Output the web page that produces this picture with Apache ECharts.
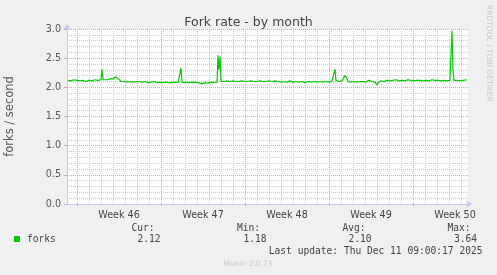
<!DOCTYPE html>
<html><head><meta charset="utf-8">
<script src="https://cdn.jsdelivr.net/npm/echarts@6/dist/echarts.min.js"></script>
<style>html,body{margin:0;padding:0;background:#F0F0F0;}#c{width:497px;height:275px;}</style>
</head><body><div id="c"></div>
<script>
// x positions are in days since the start of Week 46
var days = [-0.75,-0.5,-0.25,0,0.25,0.5,0.75,1,1.25,1.5,1.75,2,2.08,2.17,2.33,2.58,2.83,3,3.17,3.25,3.33,3.5,3.67,3.92,4.17,4.42,4.67,4.92,5,5.17,5.42,5.67,5.92,6.17,6.42,6.67,6.92,7.17,7.42,7.67,7.92,8.17,8.42,8.58,8.67,8.75,8.92,9.17,9.42,9.67,9.83,10.08,10.42,10.67,10.92,11.17,11.42,11.67,11.75,11.83,11.92,12,12.25,12.5,12.75,13,13.25,13.5,13.75,14,14.25,14.5,14.75,15,15.25,15.5,15.75,16,16.25,16.5,16.75,17,17.25,17.5,17.75,18,18.25,18.5,18.75,19,19.25,19.5,19.75,20,20.25,20.5,20.75,21,21.25,21.5,21.58,21.67,21.83,22.08,22.33,22.5,22.58,22.67,22.83,23.08,23.33,23.58,23.83,24.08,24.33,24.58,24.83,25,25.08,25.17,25.33,25.58,25.83,26.08,26.33,26.58,26.83,27.08,27.33,27.58,27.83,28.08,28.33,28.58,28.83,29.08,29.33,29.58,29.83,30.08,30.33,30.58,30.83,31.08,31.17,31.25,31.33,31.42,31.67,31.92,32.17,32.33,32.5];
var forks = [2.12,2.11,2.13,2.12,2.11,2.12,2.10,2.12,2.11,2.13,2.12,2.13,2.31,2.13,2.14,2.13,2.15,2.14,2.18,2.16,2.19,2.14,2.10,2.10,2.09,2.10,2.09,2.10,2.13,2.10,2.09,2.10,2.08,2.09,2.10,2.08,2.09,2.08,2.09,2.08,2.08,2.09,2.08,2.09,2.33,2.09,2.08,2.09,2.08,2.09,2.07,2.08,2.06,2.08,2.07,2.09,2.08,2.09,2.55,2.30,2.53,2.10,2.10,2.11,2.10,2.11,2.10,2.10,2.11,2.10,2.10,2.11,2.10,2.10,2.11,2.10,2.10,2.11,2.10,2.11,2.10,2.09,2.10,2.09,2.11,2.09,2.10,2.09,2.10,2.08,2.10,2.09,2.10,2.09,2.10,2.09,2.10,2.09,2.11,2.31,2.12,2.10,2.10,2.11,2.20,2.15,2.10,2.11,2.09,2.10,2.09,2.10,2.10,2.09,2.12,2.10,2.09,2.04,2.08,2.10,2.11,2.10,2.12,2.11,2.12,2.13,2.11,2.12,2.11,2.13,2.12,2.11,2.12,2.12,2.11,2.12,2.11,2.13,2.12,2.12,2.11,2.12,2.11,2.12,2.13,2.97,2.30,2.12,2.12,2.11,2.12,2.14,2.13];
var weekLabels = ['Week 46','Week 47','Week 48','Week 49','Week 50'];
var yTicks = ['0.0','0.5','1.0','1.5','2.0','2.5','3.0'];
var legendStats = {cur:'2.12', min:'1.18', avg:'2.10', max:'3.64'};
var lastUpdate = 'Last update: Thu Dec 11 09:00:17 2025';

// axis span in 2-hour slots: from 10 slots before Week 46 start to 391 slots after
var SLOTS_BEFORE = 10, SLOTS_AFTER = 391, SLOTS_PER_DAY = 12;
var XMIN = -SLOTS_BEFORE/SLOTS_PER_DAY, XMAX = SLOTS_AFTER/SLOTS_PER_DAY;
var slotCats = [];
for (var s = -SLOTS_BEFORE; s <= SLOTS_AFTER; s++) slotCats.push(String(s));
function slotOf(idx){ return idx - SLOTS_BEFORE; }

var pts = days.map(function(d,i){return [d, forks[i]];});
var mono = '"DejaVu Sans Mono", monospace';
var sans = '"DejaVu Sans", sans-serif';
var minorC = '#CDCDCD', majorC = '#E0A4A4', axisC = '#C4C8F2';

var chart = echarts.init(document.getElementById('c'), null, {renderer:'canvas'});
chart.setOption({
  backgroundColor:'#F0F0F0',
  animation:false,
  title:{text:'Fork rate - by month', left:'center', top:11, textStyle:{fontFamily:sans, fontSize:12.5, fontWeight:'normal', color:'#444'}},
  grid:{left:67, right:29, top:29, bottom:71, backgroundColor:'#FFFFFF', show:true, borderWidth:0, containLabel:false, outerBoundsMode:'none'},
  xAxis:[
    {type:'value', position:'bottom', offset:0, min:XMIN, max:XMAX, axisLabel:{show:false}, axisTick:{show:false}, splitLine:{show:false},
     axisLine:{show:true, onZero:false, lineStyle:{color:axisC, width:1}, symbol:['none','arrow'], symbolSize:[6,6], symbolOffset:[0,4]}, z:3},
    {type:'category', position:'bottom', offset:0, data:slotCats, boundaryGap:false, axisLine:{show:false, onZero:false}, axisTick:{show:false}, axisLabel:{show:false},
     splitLine:{show:true, interval:function(i){var s=slotOf(i); return s>-SLOTS_BEFORE && s%SLOTS_PER_DAY===0 && s%84!==0;}, lineStyle:{color:minorC, type:[1,1], width:1}}, z:1},
    {type:'category', position:'bottom', offset:0, data:slotCats, boundaryGap:false, axisLine:{show:false, onZero:false},
     axisTick:{show:true, length:2, interval:function(i){return slotOf(i)%84===0;}, lineStyle:{color:majorC}},
     splitLine:{show:true, interval:function(i){return slotOf(i)%84===0;}, lineStyle:{color:majorC, type:[1,1], width:1}},
     axisLabel:{show:true, margin:6, fontFamily:sans, fontSize:9.6, color:'#444',
       interval:function(i){var s=slotOf(i); return s>0 && s%84===42;},
       formatter:function(v,i){return weekLabels[(slotOf(i)-42)/84]||'';}}, z:2}
  ],
  yAxis:[
    {type:'value', position:'left', offset:0, min:0, max:3, interval:0.1, axisLabel:{show:false}, axisTick:{show:false},
     axisLine:{show:true, onZero:false, lineStyle:{color:axisC, width:1}, symbol:['none','arrow'], symbolSize:[6,6], symbolOffset:[0,5]},
     splitLine:{show:true, showMinLine:false, lineStyle:{color:minorC, type:[1,1], width:1}}, z:1},
    {type:'value', position:'left', offset:0, min:0, max:3, interval:0.5, axisLine:{show:false, onZero:false},
     axisTick:{show:true, length:3, lineStyle:{color:majorC}},
     splitLine:{show:true, showMinLine:false, lineStyle:{color:majorC, type:[1,1], width:1}}, z:2,
     axisLabel:{margin:6, fontFamily:sans, fontSize:9.6, color:'#555', formatter:function(v){return yTicks[Math.round(v*2)];}},
     name:'forks / second', nameLocation:'middle', nameGap:51, nameRotate:90,
     nameTextStyle:{fontFamily:sans, fontSize:11.5, color:'#555'}}
  ],
  series:[{type:'line', data:pts, xAxisIndex:0, yAxisIndex:0, showSymbol:false, symbol:'none',
    lineStyle:{color:'#00CC00', width:1.2}, z:5}],
  graphic:[
    {type:'rect', shape:{x:14, y:236, width:6, height:6}, style:{fill:'#00CC00'}},
    {type:'text', x:27, y:239.5, style:{text:'forks', font:'9.6px '+mono, fill:'#444', verticalAlign:'middle'}},
    {type:'text', x:154.5, y:228, style:{text:'Cur:', font:'9.6px '+mono, fill:'#444', align:'right', verticalAlign:'middle'}},
    {type:'text', x:260, y:228, style:{text:'Min:', font:'9.6px '+mono, fill:'#444', align:'right', verticalAlign:'middle'}},
    {type:'text', x:365.5, y:228, style:{text:'Avg:', font:'9.6px '+mono, fill:'#444', align:'right', verticalAlign:'middle'}},
    {type:'text', x:470.5, y:228, style:{text:'Max:', font:'9.6px '+mono, fill:'#444', align:'right', verticalAlign:'middle'}},
    {type:'text', x:160.5, y:239.5, style:{text:legendStats.cur, font:'9.6px '+mono, fill:'#444', align:'right', verticalAlign:'middle'}},
    {type:'text', x:266.5, y:239.5, style:{text:legendStats.min, font:'9.6px '+mono, fill:'#444', align:'right', verticalAlign:'middle'}},
    {type:'text', x:371.5, y:239.5, style:{text:legendStats.avg, font:'9.6px '+mono, fill:'#444', align:'right', verticalAlign:'middle'}},
    {type:'text', x:477, y:239.5, style:{text:legendStats.max, font:'9.6px '+mono, fill:'#444', align:'right', verticalAlign:'middle'}},
    {type:'text', x:482.5, y:251.5, style:{text:lastUpdate, font:'9.6px '+mono, fill:'#444', align:'right', verticalAlign:'middle'}},
    {type:'text', x:248, y:264.5, style:{text:'Munin 2.0.73', font:'7.5px '+sans, fill:'#C8C8C8', align:'center', verticalAlign:'middle'}},
    {type:'text', x:489, y:5, rotation:-Math.PI/2, style:{text:'RRDTOOL / TOBI OETIKER', font:'7.5px '+sans, fill:'#C8C8C8', align:'left', verticalAlign:'middle'}}
  ]
});
</script></body></html>
